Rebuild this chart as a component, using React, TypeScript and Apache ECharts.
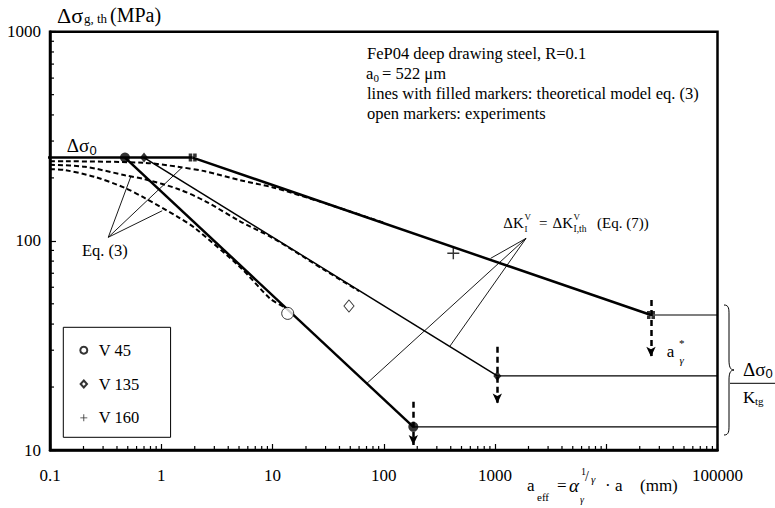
import React, { useEffect, useRef } from 'react';
import * as echarts from 'echarts';

const SERIF = "'Liberation Serif', 'Times New Roman', serif";
const SANS = "'Liberation Sans', Arial, sans-serif";

// axis ticks
const xRange = [0.1, 100000];
const yRange = [10, 1000];
const hiddenXLabels = [10000];
const minorMultipliers = [2, 3, 4, 5, 6, 7, 8, 9];
const xDecades = [0.1, 1, 10, 100, 1000, 10000];
const yDecades = [10, 100];

// Δσ0 plateau
const plateau = [[0.087, 250], [1.917, 250]];

// theoretical model (lines with filled markers)
const v45Model = [[0.472, 250], [184.4, 12.9]];
const v45Tail = [[184.4, 12.9], [100000, 12.9]];
const v135Model = [[0.70, 250], [1049, 22.6]];
const v135Tail = [[1049, 22.6], [100000, 22.6]];
const v160Model = [[1.917, 250], [25240, 44.2]];
const v160Tail = [[25240, 44.2], [100000, 44.2]];

// Eq. (3) dashed curves
const eq3V160 = [[0.1, 240], [0.136, 240], [0.714, 236], [1.415, 226], [2.47, 215], [5.1, 195], [10.1, 180], [30, 151], [100, 122]];
const eq3V135 = [[0.1, 231], [0.206, 226], [0.472, 206], [0.714, 197], [1.415, 177], [2.47, 155], [5.1, 124], [10.1, 103], [30, 72], [60, 57.5]];
const eq3V45 = [[0.1, 220], [0.136, 218], [0.254, 202], [0.472, 179], [0.714, 160], [1.415, 130], [2.01, 115], [5.1, 75], [9.5, 53], [12.5, 48.5]];

// experiments (open markers)
const expV45 = [[13.7, 45.0]];
const expV135 = [[48.7, 48.8]];
const expV160 = [[422, 87.2]];

// a*γ arrows: [x, yStart, yEnd]
const arrows = [[184.4, 17.0, 10.56], [1049, 31.2, 16.7], [25240, 52.1, 27.9]];

// leader lines
const eqLeaderApex = [0.334, 104];
const eqLeaderEnds = [[0.535, 204], [1.545, 224.7], [1.02, 139.3]];
const dkLeaderApex = [1901, 102.8];
const dkLeaderEnds = [[914, 82.5], [394, 31.4], [70.3, 20.8]];

const BRACE = 'M0,0 C5,0 5,4 5,10 L5,55 C5,61 6,65 10,65 C6,65 5,69 5,75 L5,120 C5,126 5,130 0,130';
echarts.graphic.registerShape('brace', echarts.graphic.extendPath(BRACE, {}));

const SQUARE = 'path://M0,0h4v4h-4zM5,0h4v4h-4zM0,5h4v4h-4zM5,5h4v4h-4z';
const PLUS = 'path://M4.4,0h1.2v10h-1.2zM0,4.4h10v1.2h-10z';
const DIAMOND = 'path://M5,0L10,5.5L5,11L0,5.5Z';

function t(x: number, y: number, text: string, size: number, extra: any = {}) {
  return {
    type: 'text',
    x,
    y,
    silent: true,
    z: 100,
    style: {
      text,
      fontSize: size,
      fontFamily: extra.family || SERIF,
      fontStyle: extra.italic ? 'italic' : 'normal',
      fill: '#000',
      align: 'left',
      verticalAlign: 'middle',
      textAlign: 'left',
      textVerticalAlign: 'middle',
    },
  };
}

const solid = (name: string, data: number[][], width: number) => ({
  name,
  type: 'line',
  data,
  symbol: 'none',
  clip: false,
  silent: true,
  z: 3,
  lineStyle: { color: '#000', width, type: 'solid' },
});

const dashed = (name: string, data: number[][]) => ({
  name,
  type: 'line',
  data,
  symbol: 'none',
  smooth: 0.3,
  silent: true,
  z: 2,
  lineStyle: { color: '#000', width: 2, type: [5, 3] },
});

export default function App() {
  const ref = useRef<HTMLDivElement>(null);
  useEffect(() => {
    document.body.style.margin = '0';
    const chart = echarts.init(ref.current!, undefined, { renderer: 'svg' });
    const xMinor: number[][] = [];
    xDecades.forEach((d) => minorMultipliers.forEach((m) => xMinor.push([d * m, yRange[0]])));
    const yMinor: number[][] = [];
    yDecades.forEach((d) => minorMultipliers.forEach((m) => yMinor.push([xRange[0], d * m])));

    const fmt = (v: number) => {
      const r = Number(v.toPrecision(6));
      if (hiddenXLabels.some((h) => Math.abs(h - r) < 1e-6)) return '';
      return String(r);
    };

    const option: any = {
      animation: false,
      backgroundColor: '#fff',
      textStyle: { fontFamily: SERIF },
      grid: {
        left: 50, right: 57.5, top: 31.7, bottom: 58,
        show: true, borderColor: '#000', borderWidth: 2.5, backgroundColor: 'transparent',
      },
      xAxis: {
        type: 'log', logBase: 10, min: xRange[0], max: xRange[1], splitNumber: 6,
        axisLine: { show: true, lineStyle: { color: '#000', width: 2.5 } },
        axisTick: { show: true, inside: true, length: 6, lineStyle: { color: '#000', width: 1.2 } },
        axisLabel: { margin: 17, color: '#000', fontSize: 17, fontFamily: SERIF, formatter: fmt },
        splitLine: { show: false },
      },
      yAxis: {
        type: 'log', logBase: 10, min: yRange[0], max: yRange[1], splitNumber: 2,
        axisLine: { show: true, lineStyle: { color: '#000', width: 2.5 } },
        axisTick: { show: true, inside: true, length: 6, lineStyle: { color: '#000', width: 1.2 } },
        axisLabel: { margin: 9, color: '#000', fontSize: 17, fontFamily: SERIF, formatter: (v: number) => String(Number(v.toPrecision(6))) },
        splitLine: { show: false },
      },
      legend: {
        data: ['V 45', 'V 135', 'V 160'],
        orient: 'vertical',
        left: 63.3,
        top: 327.3,
        itemWidth: 20,
        itemHeight: 7,
        itemGap: 16.8,
        padding: [14.4, 31, 11, 16],
        borderColor: '#000',
        borderWidth: 1,
        backgroundColor: '#fff',
        selectedMode: false,
        symbolKeepAspect: true,
        textStyle: { fontSize: 16.5, fontFamily: SERIF, color: '#000' },
      },
      series: [
        dashed('Eq3 V160', eq3V160),
        dashed('Eq3 V135', eq3V135),
        dashed('Eq3 V45', eq3V45),
        solid('Δσ0', plateau, 2.5),
        solid('V45 model', v45Model, 2.5),
        {
          ...solid('V45 tail', v45Tail, 1.2),
          markLine: {
            silent: true,
            symbol: ['none', 'arrow'],
            symbolSize: [7, 10],
            label: { show: false },
            lineStyle: { color: '#000', width: 2.5, type: [6, 4] },
            data: arrows.map(([x, y1, y2]) => [{ coord: [x, y1] }, { coord: [x, y2] }]),
          },
        },
        solid('V135 model', v135Model, 1.5),
        {
          ...solid('V135 tail', v135Tail, 1.2),
          markLine: {
            silent: true,
            symbol: ['none', 'none'],
            label: { show: false },
            lineStyle: { color: '#000', width: 0.9, type: 'solid' },
            data: [
              ...eqLeaderEnds.map((e) => [{ coord: eqLeaderApex }, { coord: e }]),
              ...dkLeaderEnds.map((e) => [{ coord: dkLeaderApex }, { coord: e }]),
            ],
          },
        },
        solid('V160 model', v160Model, 2.5),
        solid('V160 tail', v160Tail, 1.2),
        {
          name: 'V45 filled', type: 'scatter', data: v45Model, symbol: 'circle', symbolSize: 10,
          itemStyle: { color: '#000' }, z: 6, silent: true, clip: false,
        },
        {
          name: 'V135 filled', type: 'scatter', data: v135Model, symbol: 'diamond', symbolSize: [8, 10],
          itemStyle: { color: '#000' }, z: 6, silent: true, clip: false,
        },
        {
          name: 'V160 filled', type: 'scatter', data: v160Model, symbol: SQUARE, symbolSize: 8,
          itemStyle: { color: '#000' }, z: 6, silent: true, clip: false,
        },
        {
          name: 'V 45', type: 'scatter', data: expV45, symbol: 'circle', symbolSize: 12, symbolKeepAspect: true,
          itemStyle: { color: '#fff', borderColor: '#000', borderWidth: 1 }, z: 7, silent: true,
        },
        {
          name: 'V 135', type: 'scatter', data: expV135, symbol: DIAMOND, symbolSize: [11, 12], symbolKeepAspect: true,
          itemStyle: { color: '#fff', borderColor: '#000', borderWidth: 1 }, z: 7, silent: true,
        },
        {
          name: 'V 160', type: 'scatter', data: expV160, symbol: PLUS, symbolSize: 12, symbolKeepAspect: true,
          itemStyle: { color: '#000' }, z: 7, silent: true,
        },
        {
          type: 'custom', data: xMinor, silent: true, z: 8, clip: false,
          renderItem: (_p: any, api: any) => {
            const p = api.coord([api.value(0), api.value(1)]);
            return { type: 'line', shape: { x1: p[0], y1: p[1], x2: p[0], y2: p[1] - 4 }, style: { stroke: '#000', lineWidth: 1.2 } };
          },
        },
        {
          type: 'custom', data: yMinor, silent: true, z: 8, clip: false,
          renderItem: (_p: any, api: any) => {
            const p = api.coord([api.value(0), api.value(1)]);
            return { type: 'line', shape: { x1: p[0], y1: p[1], x2: p[0] + 4, y2: p[1] }, style: { stroke: '#000', lineWidth: 1.2 } };
          },
        },
      ],
      graphic: [
        // y-axis title
        t(57, 15, 'Δσ', 22),
        t(84, 18.5, 'g, th', 13),
        t(110, 15, '(MPa)', 20),
        // Δσ0 label
        t(66.7, 145, 'Δσ', 19),
        t(89.5, 150, '0', 13, { family: SANS }),
        // Eq. (3)
        t(82, 250.5, 'Eq. (3)', 16.5),
        // info block
        t(367, 53.3, 'FeP04 deep drawing steel, R=0.1', 16.5),
        t(366, 73.3, 'a', 16.5),
        t(373.5, 77.5, '0', 11),
        t(382, 73.3, '= 522 μm', 16.5),
        t(367, 93.3, 'lines with filled markers: theoretical model eq. (3)', 16.5),
        t(367, 113.3, 'open markers: experiments', 16.5),
        // ΔK annotation
        t(503.3, 223.3, 'ΔK', 15),
        t(524.5, 216.5, 'V', 9),
        t(524.5, 229, 'I', 9),
        t(539, 223.3, '=', 15),
        t(552.5, 223.3, 'ΔK', 15),
        t(573.5, 216.5, 'V', 9),
        t(573.5, 229, 'I,th', 9.5),
        t(597, 223.3, '(Eq. (7))', 15),
        // a*γ
        t(666.7, 351.7, 'a', 17),
        t(679, 343, '*', 11),
        t(679.5, 360, 'γ', 11, { italic: true }),
        // brace + fraction
        { type: 'brace', x: 724, y: 305, silent: true, z: 100, style: { fill: 'none', stroke: '#000', lineWidth: 1 } },
        t(743, 369, 'Δσ', 19),
        t(765.5, 373, '0', 13, { family: SANS }),
        { type: 'line', silent: true, z: 100, shape: { x1: 730, y1: 383.3, x2: 775, y2: 383.3 }, style: { stroke: '#000', lineWidth: 1 } },
        t(743, 397, 'K', 17),
        t(755, 401, 'tg', 11),
        // x-axis title
        t(527, 485, 'a', 17),
        t(537, 497, 'eff', 11),
        t(557, 485, '=', 17),
        t(569, 485, 'α', 19, { italic: true }),
        t(580, 499, 'γ', 10, { italic: true }),
        t(581, 471.7, '1', 10),
        t(585, 476.7, '/', 14),
        t(591, 479, 'γ', 11, { italic: true }),
        t(605, 485, '·', 17),
        t(615, 485, 'a', 17),
        t(640, 485, '(mm)', 17),
      ],
    };
    chart.setOption(option);
    return () => chart.dispose();
  }, []);
  return <div ref={ref} style={{ width: 775, height: 508 }} />;
}
